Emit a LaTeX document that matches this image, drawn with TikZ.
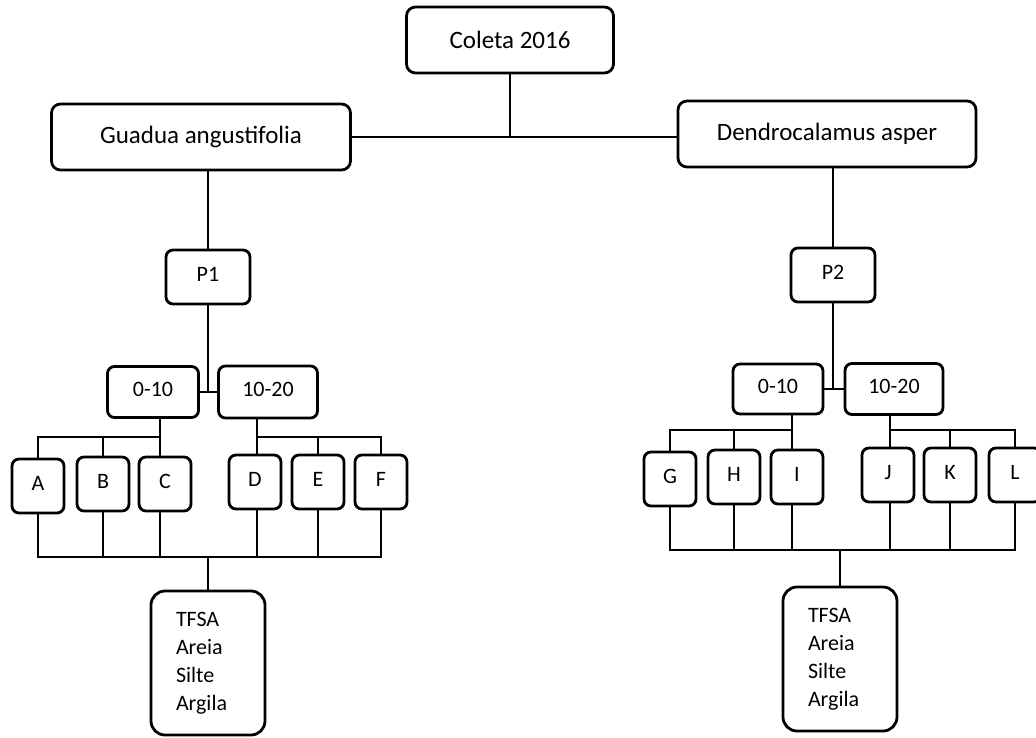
\documentclass[tikz,border=0pt]{standalone}
\usepackage{fontspec}
\setmainfont{Carlito}
\usepackage{tikz}
\usetikzlibrary{positioning}

\begin{document}
\begin{tikzpicture}[
  x=1pt,y=-1pt,
  box/.style={draw,rounded corners=7pt,line width=2.8pt,inner sep=0pt,
    font=\fontsize{22}{28}\selectfont},
  big/.style={box,rounded corners=9pt,minimum height=66pt,font=\fontsize{25}{30}\selectfont},
  cbox/.style={box,text height=12pt,text depth=4pt},
  pbox/.style={cbox,minimum width=84pt,minimum height=54pt},
  lbox/.style={cbox,minimum width=52pt,minimum height=54pt},
  res/.style={box,rounded corners=14pt,align=left,text width=64pt,inner xsep=25pt,
    minimum height=144pt},
  link/.style={line width=2.8pt}
]
  \useasboundingbox (0,0) rectangle (1036,737);
  \clip (0,0) rectangle (1036,737);

  % top level
  \node[big,minimum width=207pt] (coleta) at (510,40)  {Coleta 2016};
  \node[big,minimum width=299pt] (guadua) at (201,137) {Guadua angustifolia};
  \node[big,minimum width=298pt] (dendro) at (827,134) {Dendrocalamus asper};
  \draw[link] (coleta.south) -- (coleta.south |- guadua.east);
  \draw[link] (guadua.east) -- (guadua.east -| dendro.west);

  % Guadua angustifolia
  \node[pbox] (p1) at (208,277) {P1};
  \draw[link] (p1.north |- guadua.south) -- (p1.north);
  \node[cbox,minimum width=91pt,minimum height=51pt] (pa010)  at (153,392) {0-10};
  \node[cbox,minimum width=99pt,minimum height=52pt] (pa1020) at (268,392) {10-20};
  \draw[link] (p1.south) -- (p1.south |- pa010.east);
  \draw[link] (pa010.east) -- (pa1020.west);

  \node[lbox] (a) at (38,486)  {A};
  \node[lbox] (b) at (103,484) {B};
  \node[lbox] (c) at (165,484) {C};
  \node[lbox] (d) at (255,482) {D};
  \node[lbox] (e) at (318,482) {E};
  \node[lbox] (f) at (381,482) {F};

  \coordinate (ta) at (160,437);
  \coordinate (tb) at (257,437);
  \draw[link] (pa010.south -| ta) -- (ta) -| (a.north);
  \draw[link] (b.north) -- (b.north |- ta);
  \draw[link] (c.north -| ta) -- (ta);
  \draw[link] (pa1020.south -| tb) -- (tb) -| (f.north);
  \draw[link] (d.north -| tb) -- (tb);
  \draw[link] (e.north) -- (e.north |- tb);

  \node[res] (tfa) at (208,663) {TFSA\\Areia\\Silte\\Argila};
  \coordinate (sa) at (208,557);
  \draw[link] (a.south) |- (f.south |- sa) -- (f.south);
  \draw[link] (b.south) -- (b.south |- sa);
  \draw[link] (c.south -| ta) -- (ta |- sa);
  \draw[link] (d.south -| tb) -- (tb |- sa);
  \draw[link] (e.south) -- (e.south |- sa);
  \draw[link] (sa) -- (tfa.north);

  % Dendrocalamus asper
  \node[pbox] (p2) at (833,275) {P2};
  \draw[link] (p2.north |- dendro.south) -- (p2.north);
  \node[cbox,minimum width=90pt,minimum height=50pt] (pb010)  at (778,389) {0-10};
  \node[cbox,minimum width=98pt,minimum height=51pt] (pb1020) at (894,389) {10-20};
  \draw[link] (p2.south) -- (p2.south |- pb010.east);
  \draw[link] (pb010.east) -- (pb1020.west);

  \node[lbox] (g) at (670,479)  {G};
  \node[lbox] (h) at (734,477)  {H};
  \node[lbox] (i) at (797,477)  {I};
  \node[lbox] (j) at (888,475)  {J};
  \node[lbox] (k) at (950,475)  {K};
  \node[lbox] (l) at (1015,475) {L};

  \coordinate (tc) at (792,430);
  \coordinate (td) at (890,430);
  \draw[link] (pb010.south -| tc) -- (tc) -| (g.north);
  \draw[link] (h.north) -- (h.north |- tc);
  \draw[link] (i.north -| tc) -- (tc);
  \draw[link] (pb1020.south -| td) -- (td) -| (l.north);
  \draw[link] (j.north -| td) -- (td);
  \draw[link] (k.north) -- (k.north |- td);

  \node[res] (tfb) at (840,659) {TFSA\\Areia\\Silte\\Argila};
  \coordinate (sb) at (840,550);
  \draw[link] (g.south) |- (l.south |- sb) -- (l.south);
  \draw[link] (h.south) -- (h.south |- sb);
  \draw[link] (i.south -| tc) -- (tc |- sb);
  \draw[link] (j.south -| td) -- (td |- sb);
  \draw[link] (k.south) -- (k.south |- sb);
  \draw[link] (sb) -- (tfb.north);
\end{tikzpicture}
\end{document}
